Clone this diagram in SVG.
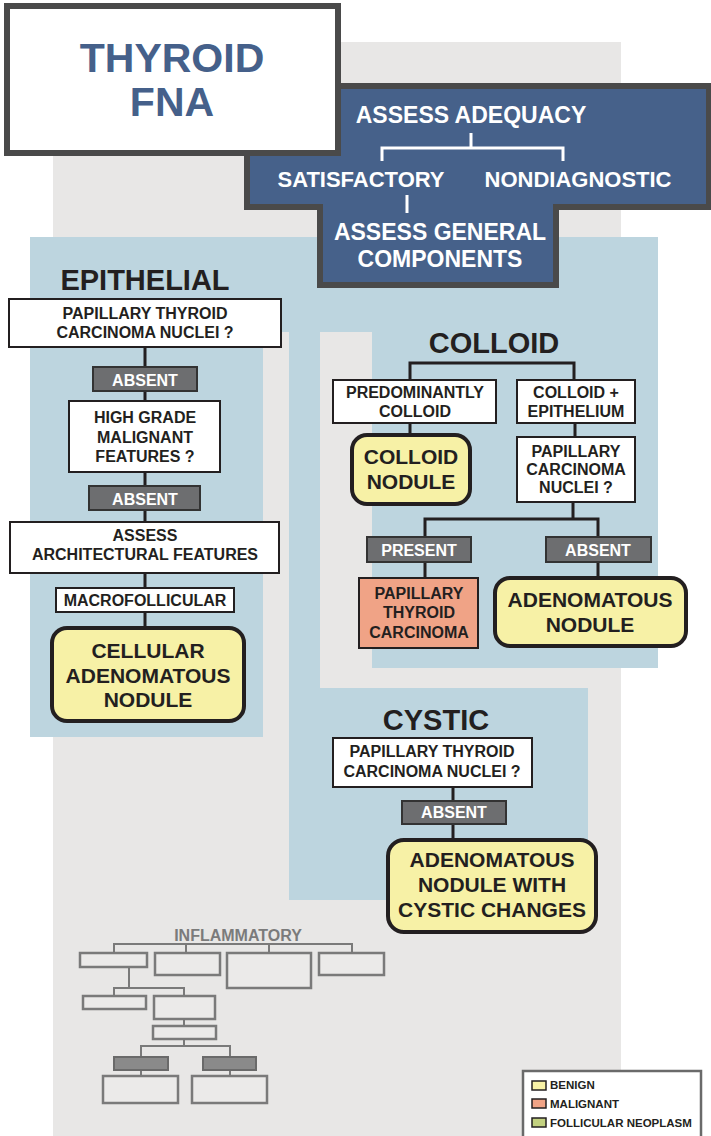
<svg xmlns="http://www.w3.org/2000/svg" width="711" height="1136" viewBox="0 0 711 1136">
<style>
text{font-family:"Liberation Sans",Arial,sans-serif;font-weight:bold;text-anchor:middle}
.box{fill:#fff;stroke:#231f20;stroke-width:2}
.lbl{fill:#6d6e70;stroke:#333;stroke-width:2}
.ben{fill:#f7f1a6;stroke:#231f20;stroke-width:4}
.mal{fill:#f0a386;stroke:#231f20;stroke-width:2}
.t16{font-size:16px;fill:#231f20}
.w16{font-size:16px;fill:#fff}
.t21{font-size:21px;fill:#231f20}
.sec{font-size:29px;fill:#231f20}
.hw{fill:#fff}
.con{stroke:#231f20;stroke-width:3;fill:none}
.mini{fill:none;stroke:#7a7a7a;stroke-width:2}
.minibox{fill:#ebeae9;stroke:#7a7a7a;stroke-width:2.5}
.minidark{fill:#8a8a8a;stroke:#6a6a6a;stroke-width:2}
.leg{font-size:11.5px;fill:#231f20;text-anchor:start}
</style>
<g id="background">
<rect x="0" y="0" width="711" height="1136" fill="#fff"/>
<rect x="53" y="42" width="568" height="1094" fill="#e8e7e6"/>
<g fill="#bdd5df">
<rect x="30" y="237" width="233" height="500"/>
<rect x="30" y="237" width="628" height="95"/>
<rect x="289" y="332" width="31" height="568"/>
<rect x="289" y="688" width="299" height="212"/>
<rect x="372" y="332" width="286" height="336"/>
</g>
</g>
<g id="header">
<polygon points="247,86 709,86 709,207 556,207 556,285 320,285 320,207 247,207" fill="#46618a" stroke="#4a4a4a" stroke-width="6"/>
<text x="471" y="123" font-size="23" class="hw">ASSESS ADEQUACY</text>
<path d="M471,133 V148 M382,161 V148 H563 V161" stroke="#fff" stroke-width="3" fill="none"/>
<text x="361" y="187" font-size="22" class="hw">SATISFACTORY</text>
<text x="578" y="187" font-size="22" class="hw">NONDIAGNOSTIC</text>
<path d="M407,195 V213" stroke="#fff" stroke-width="3"/>
<text x="440" y="240" font-size="23" class="hw">ASSESS GENERAL</text>
<text x="440" y="267" font-size="23" class="hw">COMPONENTS</text>
</g>
<g id="title">
<rect x="7" y="6" width="331" height="147" fill="#fff" stroke="#4a4a4a" stroke-width="6"/>
<text x="172" y="72" font-size="41" fill="#45608a">THYROID</text>
<text x="172" y="116" font-size="41" fill="#45608a">FNA</text>
</g>
<g id="connectors">
<path class="con" d="M145,347 V627"/>
<path class="con" d="M410,380 V363 H574 V380 M410,423 V434 M575,423 V437 M573,502 V519 M425,537 V519 H598 V537 M425,562 V578 M598,562 V577"/>
<path class="con" d="M453,787 V839"/>
</g>
<g id="epithelial">
<text x="145" y="290" class="sec">EPITHELIAL</text>
<g id="e-ptc"><rect class="box" x="9" y="299" width="272" height="48"/><text class="t16" x="145" y="319">PAPILLARY THYROID</text><text class="t16" x="145" y="338">CARCINOMA NUCLEI ?</text></g>
<g id="e-absent1"><rect class="lbl" x="93" y="367" width="104" height="24"/><text class="w16" x="145" y="386">ABSENT</text></g>
<g id="e-highgrade"><rect class="box" x="69" y="401" width="151" height="71"/><text class="t16" x="145" y="423">HIGH GRADE</text><text class="t16" x="145" y="443">MALIGNANT</text><text class="t16" x="145" y="462">FEATURES ?</text></g>
<g id="e-absent2"><rect class="lbl" x="89" y="486" width="111" height="24"/><text class="w16" x="145" y="505">ABSENT</text></g>
<g id="e-arch"><rect class="box" x="10" y="522" width="269" height="51"/><text class="t16" x="145" y="541">ASSESS</text><text class="t16" x="145" y="560">ARCHITECTURAL FEATURES</text></g>
<g id="e-macro"><rect class="box" x="56" y="588" width="178" height="24"/><text class="t16" x="145" y="606">MACROFOLLICULAR</text></g>
<g id="e-cellular"><rect class="ben" x="52" y="628" width="192" height="93" rx="15"/><text class="t21" x="148" y="658">CELLULAR</text><text class="t21" x="148" y="683">ADENOMATOUS</text><text class="t21" x="148" y="707">NODULE</text></g>
</g>
<g id="colloid">
<text x="494" y="353" class="sec">COLLOID</text>
<g id="c-pred"><rect class="box" x="333" y="380" width="163" height="43"/><text class="t16" x="415" y="398">PREDOMINANTLY</text><text class="t16" x="415" y="417">COLLOID</text></g>
<g id="c-colepi"><rect class="box" x="517" y="380" width="118" height="43"/><text class="t16" x="576" y="398">COLLOID +</text><text class="t16" x="576" y="417">EPITHELIUM</text></g>
<g id="c-nodule"><rect class="ben" x="352" y="435" width="118" height="69" rx="15"/><text class="t21" x="411" y="464">COLLOID</text><text class="t21" x="411" y="489">NODULE</text></g>
<g id="c-ptc"><rect class="box" x="517" y="437" width="118" height="65"/><text class="t16" x="576" y="457">PAPILLARY</text><text class="t16" x="576" y="475">CARCINOMA</text><text class="t16" x="576" y="493">NUCLEI ?</text></g>
<g id="c-present"><rect class="lbl" x="367" y="537" width="104" height="25"/><text class="w16" x="419" y="556">PRESENT</text></g>
<g id="c-absent"><rect class="lbl" x="546" y="537" width="105" height="25"/><text class="w16" x="598" y="556">ABSENT</text></g>
<g id="c-carcinoma"><rect class="mal" x="359" y="578" width="119" height="70"/><text class="t16" x="419" y="599">PAPILLARY</text><text class="t16" x="419" y="618">THYROID</text><text class="t16" x="419" y="638">CARCINOMA</text></g>
<g id="c-adenomatous"><rect class="ben" x="495" y="578" width="191" height="68" rx="15"/><text class="t21" x="590" y="607">ADENOMATOUS</text><text class="t21" x="590" y="632">NODULE</text></g>
</g>
<g id="cystic">
<text x="436" y="730" class="sec">CYSTIC</text>
<g id="y-ptc"><rect class="box" x="333" y="738" width="199" height="49"/><text class="t16" x="432" y="757">PAPILLARY THYROID</text><text class="t16" x="432" y="777">CARCINOMA NUCLEI ?</text></g>
<g id="y-absent"><rect class="lbl" x="402" y="801" width="104" height="23"/><text class="w16" x="454" y="818">ABSENT</text></g>
<g id="y-nodule"><rect class="ben" x="388" y="840" width="208" height="92" rx="16"/><text class="t21" x="492" y="867">ADENOMATOUS</text><text class="t21" x="492" y="892">NODULE WITH</text><text class="t21" x="492" y="917">CYSTIC CHANGES</text></g>
</g>
<g id="inflammatory">
<text x="238" y="941" font-size="16" fill="#7b7b7b">INFLAMMATORY</text>
<path class="mini" d="M114,953 V944 H352 V953 M186,944 V953 M269,944 V953 M129,967 V988 M114,996 V988 H184 V996 M184,1019 V1026 M184,1039 V1046 M141,1057 V1046 H230 V1057 M141,1070 V1076 M230,1070 V1076"/>
<rect class="minibox" x="80" y="953" width="67" height="14"/>
<rect class="minibox" x="155" y="953" width="65" height="22"/>
<rect class="minibox" x="227" y="953" width="84" height="35"/>
<rect class="minibox" x="319" y="953" width="65" height="22"/>
<rect class="minibox" x="83" y="996" width="63" height="13"/>
<rect class="minibox" x="154" y="996" width="61" height="23"/>
<rect class="minibox" x="153" y="1026" width="63" height="13"/>
<rect class="minidark" x="114" y="1057" width="54" height="13"/>
<rect class="minidark" x="203" y="1057" width="53" height="13"/>
<rect class="minibox" x="103" y="1076" width="75" height="27"/>
<rect class="minibox" x="192" y="1076" width="75" height="27"/>
</g>
<g id="legend">
<rect x="523" y="1071" width="178" height="70" fill="#fff" stroke="#6a6a6a" stroke-width="2.5"/>
<rect x="532" y="1081" width="14" height="9" fill="#f7f1a6" stroke="#231f20" stroke-width="1.5"/>
<rect x="532" y="1099" width="14" height="9" fill="#f0a386" stroke="#231f20" stroke-width="1.5"/>
<rect x="532" y="1118" width="14" height="9" fill="#c3d180" stroke="#231f20" stroke-width="1.5"/>
<text x="550" y="1089" class="leg">BENIGN</text>
<text x="550" y="1108" class="leg">MALIGNANT</text>
<text x="550" y="1127" class="leg">FOLLICULAR NEOPLASM</text>
</g>
</svg>
